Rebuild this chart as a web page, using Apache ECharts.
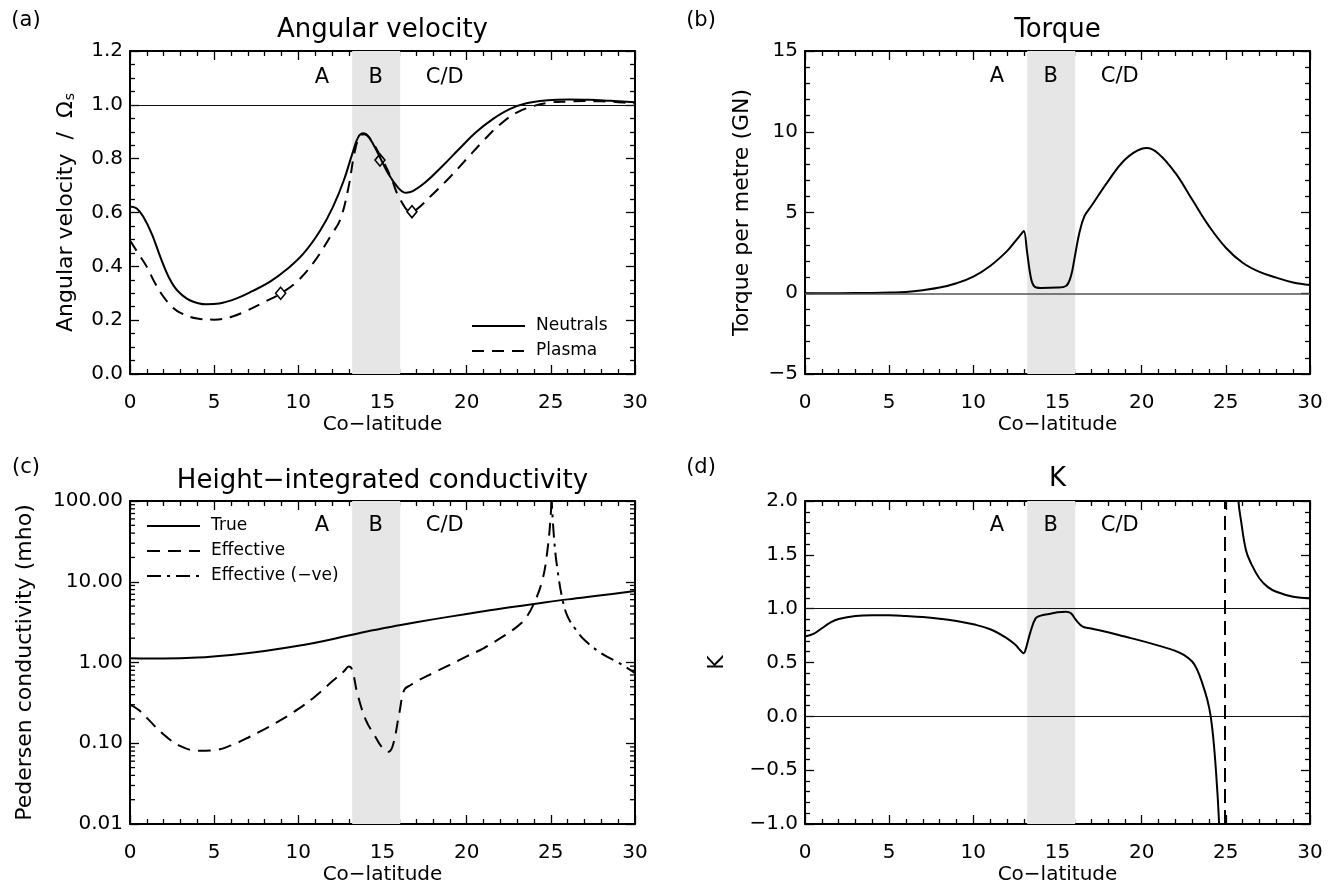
<!DOCTYPE html>
<html><head><meta charset="utf-8">
<script src="https://cdn.jsdelivr.net/npm/echarts@6/dist/echarts.min.js"></script>
<style>html,body{margin:0;padding:0;background:#fff}#c{width:1335px;height:888px}</style>
</head><body><div id="c"></div>
<script>
// ---------- data ----------
const neutralsX = [0, 0.4, 0.8, 1.3, 1.8, 2.3, 2.8, 3.55, 4.55, 5.3, 6.3, 7.3, 8.3, 9.3, 10.3, 11.3, 12.05, 12.7, 13.2, 13.55, 13.85, 14.2, 14.8, 15.3, 15.9, 16.4, 16.8, 17.55, 18.55, 19.55, 20.55, 21.55, 22.55, 23.55, 24.8, 26.05, 27.3, 28.55, 30];
const neutralsY = [0.622, 0.615, 0.583, 0.52, 0.435, 0.36, 0.311, 0.274, 0.259, 0.262, 0.28, 0.309, 0.342, 0.388, 0.447, 0.533, 0.62, 0.719, 0.817, 0.879, 0.894, 0.879, 0.811, 0.749, 0.694, 0.673, 0.679, 0.712, 0.772, 0.836, 0.898, 0.947, 0.984, 1.006, 1.017, 1.02, 1.019, 1.015, 1.01];
const plasmaX = [0, 0.5, 1, 1.5, 2, 2.5, 3, 4, 5, 6, 7, 8, 9, 10, 11, 12, 12.5, 13, 13.3, 13.6, 13.9, 14.2, 15, 15.5, 16, 16.7, 17, 18, 19, 20, 21, 22, 23, 24, 25, 26, 27, 28, 29, 30];
const plasmaY = [0.496, 0.447, 0.398, 0.336, 0.286, 0.249, 0.227, 0.206, 0.202, 0.212, 0.237, 0.268, 0.301, 0.348, 0.422, 0.521, 0.575, 0.70, 0.81, 0.879, 0.891, 0.88, 0.795, 0.731, 0.655, 0.603, 0.61, 0.669, 0.731, 0.799, 0.867, 0.928, 0.972, 0.996, 1.009, 1.012, 1.014, 1.013, 1.01, 1.005];
const diamondX = [8.95, 14.85, 16.75];
const diamondY = [0.30, 0.795, 0.603];

const torqueX = [0, 2, 4, 5, 6, 7, 8, 9, 10, 11, 12, 12.5, 12.9, 13.0, 13.2, 13.4, 13.6, 14, 15, 15.5, 15.8, 16, 16.3, 16.6, 17, 18, 19, 20, 20.3, 21, 22, 23, 24, 25, 26, 27, 28, 29, 30];
const torqueY = [0, 0.005, 0.02, 0.04, 0.08, 0.19, 0.35, 0.62, 1.03, 1.69, 2.61, 3.23, 3.74, 3.85, 2.5, 1.07, 0.45, 0.33, 0.35, 0.45, 1.07, 2.1, 3.74, 4.77, 5.39, 6.93, 8.27, 8.95, 8.99, 8.64, 7.45, 5.8, 4.16, 2.82, 1.89, 1.32, 0.97, 0.66, 0.51];

const trueX = [0, 2, 4, 6, 8, 10, 12, 14, 16, 18, 20, 22, 24, 26, 28, 30];
const trueY = [1.13, 1.12, 1.15, 1.24, 1.39, 1.61, 1.94, 2.41, 2.89, 3.42, 3.99, 4.64, 5.3, 6.05, 6.8, 7.67];
const effX = [0, 0.5, 1, 2, 3, 4, 5, 6, 7, 8, 9, 10, 11, 12, 12.7, 13.0, 13.2, 13.5, 14, 14.5, 15, 15.3, 15.6, 16, 16.3, 16.7, 17, 18, 19, 20, 21, 22, 23, 23.5, 24, 24.5, 24.8, 25.0, 25.05];
const effY = [0.30, 0.26, 0.206, 0.128, 0.092, 0.081, 0.082, 0.094, 0.117, 0.15, 0.196, 0.266, 0.38, 0.58, 0.774, 0.89, 0.81, 0.418, 0.196, 0.128, 0.087, 0.078, 0.092, 0.237, 0.46, 0.53, 0.58, 0.74, 0.936, 1.19, 1.5, 2.0, 2.78, 3.52, 5.4, 10.5, 24.6, 70, 130];
const negX = [25.03, 25.2, 25.4, 25.7, 26, 26.5, 27, 28, 29, 30];
const negY = [120, 32.6, 13.9, 5.94, 3.7, 2.53, 1.9, 1.3, 1.0, 0.74];

const kX = [0, 0.5, 1, 1.5, 2, 3, 4, 5, 6, 7, 8, 9, 10, 11, 12, 12.5, 12.8, 13.0, 13.1, 13.4, 13.7, 14, 14.5, 15, 15.5, 15.8, 16.1, 16.5, 17, 18, 19, 20, 21, 22, 22.5, 23, 23.3, 23.6, 23.9, 24.1, 24.3, 24.5, 24.6, 24.7, 25.2, 25.65, 25.75, 25.9, 26.2, 26.5, 27, 27.5, 28, 29, 30];
const kY = [0.741, 0.765, 0.818, 0.87, 0.904, 0.932, 0.938, 0.938, 0.932, 0.923, 0.907, 0.886, 0.855, 0.809, 0.725, 0.664, 0.611, 0.586, 0.617, 0.787, 0.91, 0.935, 0.95, 0.966, 0.972, 0.957, 0.895, 0.833, 0.815, 0.781, 0.741, 0.701, 0.657, 0.608, 0.571, 0.509, 0.432, 0.309, 0.154, 0.0, -0.278, -0.71, -1.0, -1.4, null, 2.4, 2.0, 1.82, 1.54, 1.42, 1.28, 1.2, 1.157, 1.11, 1.096];
const kAsymptoteX = 24.95;

const bandStart = 13.2, bandEnd = 16.05;
const regionLabels = ['A', 'B', 'C/D'];
const regionLabelX = [11.4, 14.6, 18.7];
const regionLabelY = [1.103, 13.4, 49, 1.768];

const panelTitles = ['Angular velocity', 'Torque', 'Height\u2212integrated conductivity', 'K'];
const panelLetters = ['(a)', '(b)', '(c)', '(d)'];
const xName = 'Co\u2212latitude';
const yNames = ['Angular velocity  /  \u03a9{s|s}', 'Torque per metre (GN)', 'Pedersen conductivity (mho)', 'K'];
const logMinorTicks = [0.02,0.03,0.04,0.05,0.06,0.07,0.08,0.09,0.2,0.3,0.4,0.5,0.6,0.7,0.8,0.9,2,3,4,5,6,7,8,9,20,30,40,50,60,70,80,90];

// ---------- layout ----------
const FONT = 'DejaVu Sans';
const grids = [
  {left: 130, top: 51, width: 505, height: 323},
  {left: 805, top: 51, width: 505, height: 323},
  {left: 130, top: 501, width: 505, height: 323},
  {left: 805, top: 501, width: 505, height: 323}
];
const minus = s => String(s).replace('-', '\u2212');
const tickLine = {color: '#000', width: 1.3};

function axis(o) {
  return {
    type: o.type || 'value', gridIndex: o.grid, position: o.position,
    min: o.min, max: o.max, interval: o.interval, logBase: o.logBase,
    axisLine: {show: true, onZero: false, lineStyle: {color: '#000', width: 2}},
    axisTick: {show: true, inside: true, length: 9, lineStyle: tickLine},
    minorTick: {show: !!o.minor, splitNumber: o.minor || 5, length: 5, lineStyle: tickLine},
    splitLine: {show: false}, minorSplitLine: {show: false},
    axisLabel: {show: !!o.labels, color: '#000', fontFamily: FONT, fontSize: 20, margin: o.margin || 7, formatter: o.fmt},
    name: o.name, nameLocation: 'middle', nameGap: o.nameGap,
    nameTextStyle: {color: '#000', fontFamily: FONT, fontSize: o.nameSize || 22,
      rich: {s: {fontFamily: FONT, fontSize: 14, color: '#000', verticalAlign: 'bottom', padding: [0, 0, 0, 1]}}}
  };
}

const xAxis = [], yAxis = [];
for (let g = 0; g < 4; g++) {
  xAxis.push(axis({grid: g, position: 'bottom', min: 0, max: 30, interval: 5, minor: 5, labels: true, margin: 19, fmt: v => String(v), name: xName, nameGap: 41, nameSize: 20}));
  xAxis.push(axis({grid: g, position: 'top', min: 0, max: 30, interval: 5, minor: 5}));
}
const ySpecs = [
  {min: 0, max: 1.2, interval: 0.2, minor: 4, fmt: v => v.toFixed(1), nameGap: 53},
  {min: -5, max: 15, interval: 5, minor: 5, fmt: v => minus(v), nameGap: 52},
  {type: 'log', logBase: 10, min: 0.01, max: 100, minor: 0, fmt: v => v.toFixed(2), nameGap: 94},
  {min: -1, max: 2, interval: 0.5, minor: 5, fmt: v => minus(v.toFixed(1)), nameGap: 77}
];
ySpecs.forEach((s, g) => {
  yAxis.push(axis(Object.assign({grid: g, position: 'left', labels: true, name: yNames[g]}, s)));
  yAxis.push(axis(Object.assign({}, s, {grid: g, position: 'right', labels: false, name: undefined})));
});

const zip = (xs, ys) => xs.map((x, i) => [x, ys[i]]);
const lineSeries = (name, g, xs, ys, dash) => ({
  name, type: 'line', xAxisIndex: 2 * g, yAxisIndex: 2 * g, data: zip(xs, ys),
  symbol: 'none', showSymbol: false, smooth: 0.4, connectNulls: false, z: 3,
  lineStyle: {color: '#000', width: 2, type: dash || 'solid'}, itemStyle: {color: '#000'}
});

const hLines = [[1.0], [0], [], [1.0, 0]];
const hLineColor = ['#111', '#555', '#111', '#111'];
const series = [];
for (let g = 0; g < 4; g++) {
  const ml = hLines[g].map(v => ({yAxis: v}));
  if (g === 3) ml.push({xAxis: kAsymptoteX, lineStyle: {type: [14, 7], width: 2, color: '#000'}});
  series.push({
    type: 'line', xAxisIndex: 2 * g, yAxisIndex: 2 * g, data: [], z: -1, silent: true,
    markArea: {silent: true, itemStyle: {color: '#e6e6e6'}, data: [[{xAxis: bandStart}, {xAxis: bandEnd}]]},
    markLine: {silent: true, symbol: ['none', 'none'], label: {show: false},
      lineStyle: {color: hLineColor[g], width: g === 1 ? 1.6 : 1.2, type: 'solid'}, data: ml}
  });
  series.push({
    type: 'scatter', xAxisIndex: 2 * g, yAxisIndex: 2 * g, symbolSize: 0, silent: true, z: 4,
    itemStyle: {opacity: 1},
    data: regionLabelX.map((x, i) => [x, regionLabelY[g], regionLabels[i]]),
    label: {show: true, position: 'inside', formatter: p => p.value[2], color: '#000', opacity: 1, fontFamily: FONT, fontSize: 21}
  });
}
series.push(lineSeries('Neutrals', 0, neutralsX, neutralsY));
series.push(lineSeries('Plasma', 0, plasmaX, plasmaY, [12, 8]));
series.push({type: 'scatter', xAxisIndex: 0, yAxisIndex: 0, data: zip(diamondX, diamondY), symbol: 'diamond', symbolSize: [10, 12], z: 5,
  itemStyle: {color: 'rgba(0,0,0,0)', borderColor: '#000', borderWidth: 1.6, opacity: 1}, silent: true});
series.push(lineSeries('Torque', 1, torqueX, torqueY));
series.push(lineSeries('True', 2, trueX, trueY));
series.push(lineSeries('Effective', 2, effX, effY, [13, 8]));
series.push(lineSeries('Effective (\u2212ve)', 2, negX, negY, [14, 6, 3, 6]));
series.push(lineSeries('K', 3, kX, kY));
series.push({
  type: 'custom', xAxisIndex: 4, yAxisIndex: 4, silent: true, z: 5,
  data: logMinorTicks.map(v => [0, v]),
  renderItem: (params, api) => {
    const v = api.value(1);
    const pl = api.coord([0, v]), pr = api.coord([30, v]);
    const st = {stroke: '#000', lineWidth: 1.3};
    return {type: 'group', children: [
      {type: 'line', shape: {x1: pl[0], y1: pl[1], x2: pl[0] + 5, y2: pl[1]}, style: st},
      {type: 'line', shape: {x1: pr[0] - 5, y1: pr[1], x2: pr[0], y2: pr[1]}, style: st}
    ]};
  }
});

const titleCenters = [[382.5, 17], [1057.5, 17], [382.5, 468], [1057.5, 466]];
const letterPos = [[26, 10], [701, 10], [26, 457], [701, 457]];
const title = [];
panelTitles.forEach((t, i) => title.push({text: t, left: titleCenters[i][0], top: titleCenters[i][1], textAlign: 'center', padding: 0,
  textStyle: {color: '#000', fontFamily: FONT, fontSize: 26, fontWeight: 'normal'}}));
panelLetters.forEach((t, i) => title.push({text: t, left: letterPos[i][0], top: letterPos[i][1], textAlign: 'center', padding: 0,
  textStyle: {color: '#000', fontFamily: FONT, fontSize: 21, fontWeight: 'normal'}}));

const legendText = {color: '#000', fontFamily: FONT, fontSize: 17, lineHeight: 20, padding: [0, 0, 0, 6]};
const legend = [
  {data: ['Neutrals', 'Plasma'], orient: 'vertical', left: 471, top: 316, itemWidth: 53, itemHeight: 14, itemGap: 5,
   selectedMode: false, textStyle: legendText, padding: 0, itemStyle: {opacity: 0}},
  {data: ['True', 'Effective', 'Effective (\u2212ve)'], orient: 'vertical', left: 146, top: 516, itemWidth: 53, itemHeight: 14, itemGap: 5,
   selectedMode: false, textStyle: legendText, padding: 0, itemStyle: {opacity: 0}}
];

const chart = echarts.init(document.getElementById('c'), null, {renderer: 'canvas'});
chart.setOption({
  animation: false, backgroundColor: '#fff',
  title, legend, grid: grids, xAxis, yAxis, series
});
</script>
</body></html>
